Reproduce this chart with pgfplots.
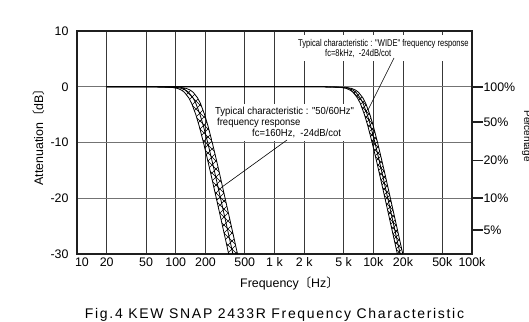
\documentclass[border=0pt]{standalone}
\usepackage{pgfplots}
\pgfplotsset{compat=1.18}
\usepgfplotslibrary{fillbetween}
\usetikzlibrary{patterns}
\usepackage{fontspec}
\setmainfont{Liberation Sans}
\newfontfamily\cjk{Noto Sans CJK JP}
\newfontfamily\narrowA[FakeStretch=0.77]{Liberation Sans}
\newfontfamily\narrowB[FakeStretch=0.93]{Liberation Sans}
\newfontfamily\capfont[LetterSpace=12]{Liberation Sans}

\pgfdeclarepatternformonly{rope}{\pgfqpoint{-1pt}{-1pt}}{\pgfqpoint{9pt}{9pt}}{\pgfqpoint{8pt}{8pt}}{%
 \pgfsetlinewidth{0.6pt}%
 \pgfpathmoveto{\pgfqpoint{-0.5pt}{-0.5pt}}\pgfpathlineto{\pgfqpoint{8.5pt}{8.5pt}}%
 \pgfpathmoveto{\pgfqpoint{-0.5pt}{8.5pt}}\pgfpathlineto{\pgfqpoint{8.5pt}{-0.5pt}}%
 \pgfusepath{stroke}}
\pgfdeclarepatternformonly{finerope}{\pgfqpoint{-1pt}{-1pt}}{\pgfqpoint{7pt}{7pt}}{\pgfqpoint{6pt}{6pt}}{%
 \pgfsetlinewidth{0.4pt}%
 \pgfpathmoveto{\pgfqpoint{-0.5pt}{-0.5pt}}\pgfpathlineto{\pgfqpoint{6.5pt}{6.5pt}}%
 \pgfpathmoveto{\pgfqpoint{-0.5pt}{6.5pt}}\pgfpathlineto{\pgfqpoint{6.5pt}{-0.5pt}}%
 \pgfusepath{stroke}}

\newcommand{\tickfont}{\fontsize{12.4}{14}\selectfont}

\begin{document}
\begin{tikzpicture}
\begin{axis}[
  at={(77pt,67pt)}, anchor=south west, scale only axis,
  width=395pt, height=223pt,
  xmode=log, xmin=10, xmax=100000, ymin=-30, ymax=10,
  xtick={10,20,50,100,200,500,1000,2000,5000,10000,20000,50000,100000},
  xticklabels={\kern10pt 10,20,50,100,200,500,1 k,2 k,5 k,10k,20k,50k,100k},
  ytick={-30,-20,-10,0,10}, yticklabels={-30,-20,-10,0,10},
  xminorticks=false, yminorticks=false,
  major tick length=0pt,
  grid=major,
  x grid style={black!78, line width=0.8pt},
  y grid style={black!55, line width=0.9pt},
  axis line style={black!88, line width=1.3pt},
  tick label style={font=\tickfont},
  yticklabel style={xshift=-5pt},
  clip=true,
]
\addplot[black, line width=0.8pt, line join=round, name path=A50] coordinates {(20,0) (60,0) (90.6,-0.1) (104.3,-0.3) (114.3,-0.6) (122.5,-1) (135.6,-2) (145,-3) (159.7,-5) (172.5,-7) (190.8,-10) (209.4,-13) (229.1,-16) (257.5,-20) (297.7,-25) (343.8,-30)};
\addplot[black, line width=0.8pt, line join=round, name path=B50] coordinates {(20,0) (60,0) (100,-0.1) (115,-0.3) (126.1,-0.6) (135.2,-1) (149.6,-2) (160,-3) (176.2,-5) (190.4,-7) (210.6,-10) (231,-13) (252.8,-16) (284.2,-20) (328.5,-25) (379.4,-30)};
\addplot[black, line width=0.8pt, line join=round, name path=C50] coordinates {(20,0) (60,0) (111.3,-0.1) (128,-0.3) (140.3,-0.6) (150.4,-1) (166.4,-2) (178,-3) (196,-5) (211.8,-7) (234.2,-10) (257,-13) (281.2,-16) (316.1,-20) (365.4,-25) (422,-30)};
\addplot[black, line width=0.8pt, line join=round, name path=AW] coordinates {(20,0) (3000,0) (4625,-0.1) (5321,-0.3) (5831,-0.6) (6253,-1) (6919,-2) (7400,-3) (8147,-5) (8806,-7) (9738,-10) (10686,-13) (11692,-16) (13142,-20) (15192,-25) (17545,-30)};
\addplot[black, line width=0.8pt, line join=round, name path=BW] coordinates {(20,0) (3000,0) (4938,-0.1) (5680,-0.3) (6225,-0.6) (6676,-1) (7387,-2) (7900,-3) (8698,-5) (9401,-7) (10396,-10) (11408,-13) (12482,-16) (14030,-20) (16219,-25) (18731,-30)};
\addplot[black, line width=0.8pt, line join=round, name path=CW] coordinates {(20,0) (3000,0) (5250,-0.1) (6040,-0.3) (6619,-0.6) (7098,-1) (7854,-2) (8400,-3) (9248,-5) (9996,-7) (11054,-10) (12130,-13) (13272,-16) (14918,-20) (17245,-25) (19916,-30)};
\addplot[pattern=rope, draw=none] fill between[of=A50 and C50];
\addplot[pattern=finerope, draw=none] fill between[of=AW and CW];
\end{axis}
\begin{axis}[
  at={(77pt,67pt)}, anchor=south west, scale only axis,
  width=395pt, height=223pt,
  xmode=log, xmin=10, xmax=100000, ymin=-30, ymax=10,
  axis x line=none, axis y line*=right,
  ytick={0,-6.3,-13.2,-20,-25.7},
  yticklabels={100\%,50\%,20\%,10\%,5\%},
  yminorticks=false,
  tick align=outside, major tick length=11pt,
  major tick style={line width=1.6pt, black!88},
  axis line style={black!88, line width=1.3pt},
  tick label style={font=\tickfont},
  yticklabel style={xshift=-3pt},
]
\end{axis}
% annotation boxes
\fill[white] (295pt,260pt) rectangle (470pt,286pt);
\node[anchor=base west, inner sep=0pt, font=\narrowA\fontsize{9.8}{11}\selectfont] at (298pt,274.5pt) {Typical characteristic : "WIDE" frequency response};
\node[anchor=base west, inner sep=0pt, font=\narrowA\fontsize{9.8}{11}\selectfont] at (325pt,264.5pt) {fc=8kHz,\ \ -24dB/cot};
\fill[white] (212pt,180pt) rectangle (357pt,217pt);
\node[anchor=base west, inner sep=0pt, font=\narrowB\fontsize{10.2}{11}\selectfont] at (215pt,206.5pt) {Typical characteristic : "50/60Hz"};
\node[anchor=base west, inner sep=0pt, font=\narrowB\fontsize{10.2}{11}\selectfont] at (217pt,195.5pt) {frequency response};
\node[anchor=base west, inner sep=0pt, font=\narrowB\fontsize{10.2}{11}\selectfont] at (252pt,184.5pt) {fc=160Hz,\ \ -24dB/cot};
\draw[line width=0.6pt] (394pt,263pt) -- (368pt,211pt);
\draw[line width=0.6pt] (287pt,181pt) -- (222pt,134pt);
% labels
\node[anchor=base, inner sep=0pt, font=\tickfont] at (289.5pt,34pt) {Frequency{\cjk 〔}Hz{\cjk 〕}};
\node[anchor=base, inner sep=0pt, rotate=90, font=\tickfont] at (43pt,187pt) {Attenuation{\cjk 〔}dB{\cjk 〕}};
\node[anchor=base, inner sep=0pt, rotate=-90, font=\fontsize{10}{12}\selectfont] at (524pt,185pt) {Percentage};
\node[anchor=base, inner sep=0pt, font=\capfont\fontsize{14}{16}\selectfont] at (274.5pt,3pt) {Fig.4 KEW SNAP 2433R Frequency Characteristic};
\pgfresetboundingbox
\path[use as bounding box] (0,0) rectangle (529pt,321pt);
\end{tikzpicture}
\end{document}
